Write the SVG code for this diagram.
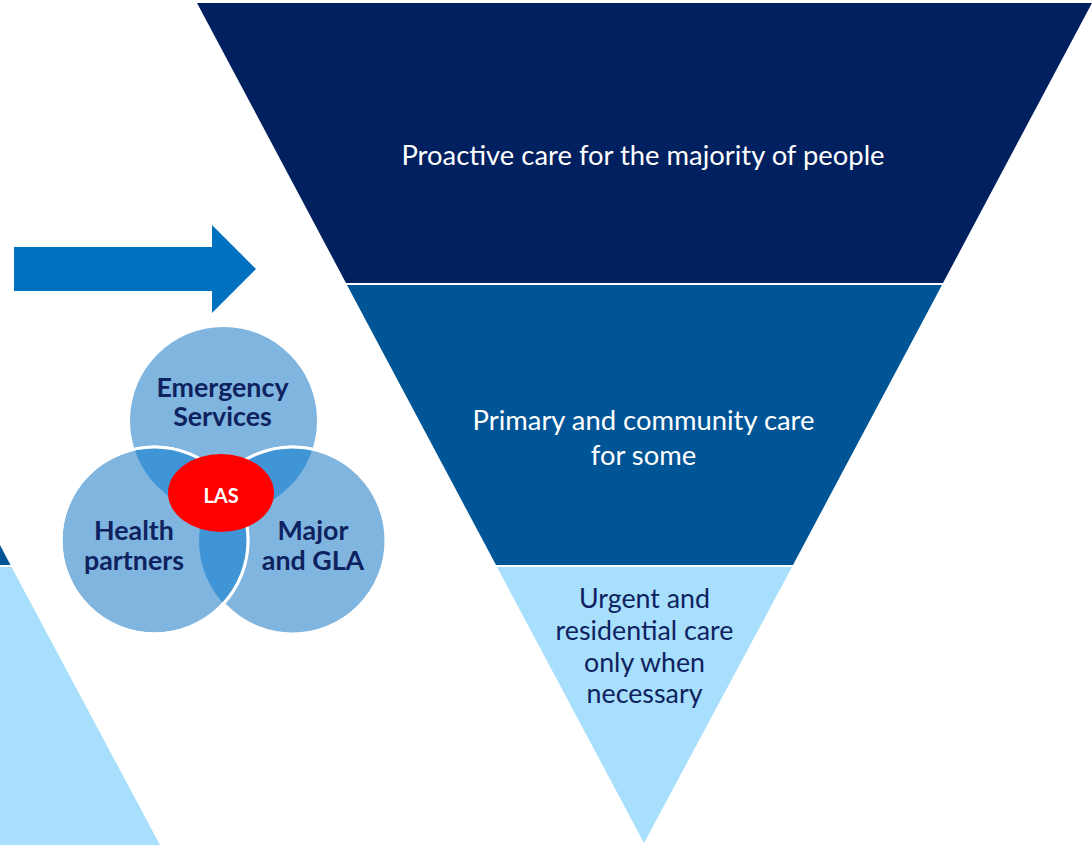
<svg xmlns="http://www.w3.org/2000/svg" width="1092" height="845" viewBox="0 0 1092 845">
<defs>
<style>
.band1{fill:#002060}
.band2{fill:#005596}
.band3{fill:#A7DFFC}
.circ{fill:#80B5DF}
.inter{fill:#4095D6}
.ws{fill:none;stroke:#FFFFFF;stroke-width:3}
.lbl{font-family:Lato,"Liberation Sans",sans-serif;font-weight:bold;fill:#0F2260;font-size:26.8px;text-anchor:middle}
.main{font-family:Lato,"Liberation Sans",sans-serif;text-anchor:middle;font-size:27.4px}
.dark{fill:#0F2260;font-size:26.8px}
</style>
<clipPath id="cTop"><circle cx="223.5" cy="420.5" r="93.5"/></clipPath>
<clipPath id="cLeft"><circle cx="154.5" cy="540.5" r="93.5"/></clipPath>
<clipPath id="cRight"><circle cx="292.5" cy="540.5" r="93.5"/></clipPath>
</defs>
<rect width="1092" height="845" fill="#FFFFFF"/>

<g id="left-pyramid">
<polygon class="band2" points="0,545 10.5,565 0,565"/>
<polygon class="band3" points="0,567 11.5,567 160,845 0,845"/>
</g>

<g id="arrow">
<polygon fill="#0070C0" points="14,247 212,247 212,225 256,269 212,313 212,291 14,291"/>
</g>

<g id="band-proactive">
<polygon class="band1" points="197,3 1092,3 943,283 346,283"/>
<text class="main" x="643" y="165" fill="#FFFFFF">Proactive care for the majority of people</text>
</g>
<g id="band-primary">
<polygon class="band2" points="347,285 942,285 793,565 496,565"/>
<text class="main" x="643.5" y="430" fill="#FFFFFF">Primary and community care</text>
<text class="main" x="643.5" y="465" fill="#FFFFFF">for some</text>
</g>
<g id="band-urgent">
<polygon class="band3" points="497,567 792,567 644,843"/>
<text class="main dark" x="644.5" y="608">Urgent and</text>
<text class="main dark" x="644.5" y="640">residential care</text>
<text class="main dark" x="644.5" y="671.5">only when</text>
<text class="main dark" x="644.5" y="703">necessary</text>
</g>

<g id="venn">
<g id="circle-emergency">
<circle class="circ" cx="223.5" cy="420.5" r="93.5"/>
</g>
<g id="circle-major">
<circle class="circ" cx="292.5" cy="540.5" r="93.5"/>
<circle class="ws" cx="292.5" cy="540.5" r="93.5"/>
</g>
<g id="circle-health">
<circle class="circ" cx="154.5" cy="540.5" r="93.5"/>
<circle class="ws" cx="154.5" cy="540.5" r="93.5"/>
</g>
<g id="intersections">
<circle class="inter" cx="154.5" cy="540.5" r="93.5" clip-path="url(#cTop)"/>
<circle class="inter" cx="292.5" cy="540.5" r="93.5" clip-path="url(#cTop)"/>
<circle class="inter" cx="154.5" cy="540.5" r="93.5" clip-path="url(#cRight)"/>
<circle class="ws" cx="292.5" cy="540.5" r="93.5" clip-path="url(#cTop)"/>
<circle class="ws" cx="154.5" cy="540.5" r="93.5"/>
</g>
<text class="lbl" x="222.5" y="397">Emergency</text>
<text class="lbl" x="222.5" y="426">Services</text>
<text class="lbl" x="134" y="540">Health</text>
<text class="lbl" x="134" y="570">partners</text>
<text class="lbl" x="313" y="540">Major</text>
<text class="lbl" x="313" y="570">and GLA</text>
<g id="las">
<ellipse cx="221" cy="493" rx="53" ry="39" fill="#FF0000"/>
<text x="221" y="502.5" font-family="Lato,'Liberation Sans',sans-serif" font-weight="bold" font-size="20" fill="#FFFFFF" text-anchor="middle">LAS</text>
</g>
</g>
</svg>
